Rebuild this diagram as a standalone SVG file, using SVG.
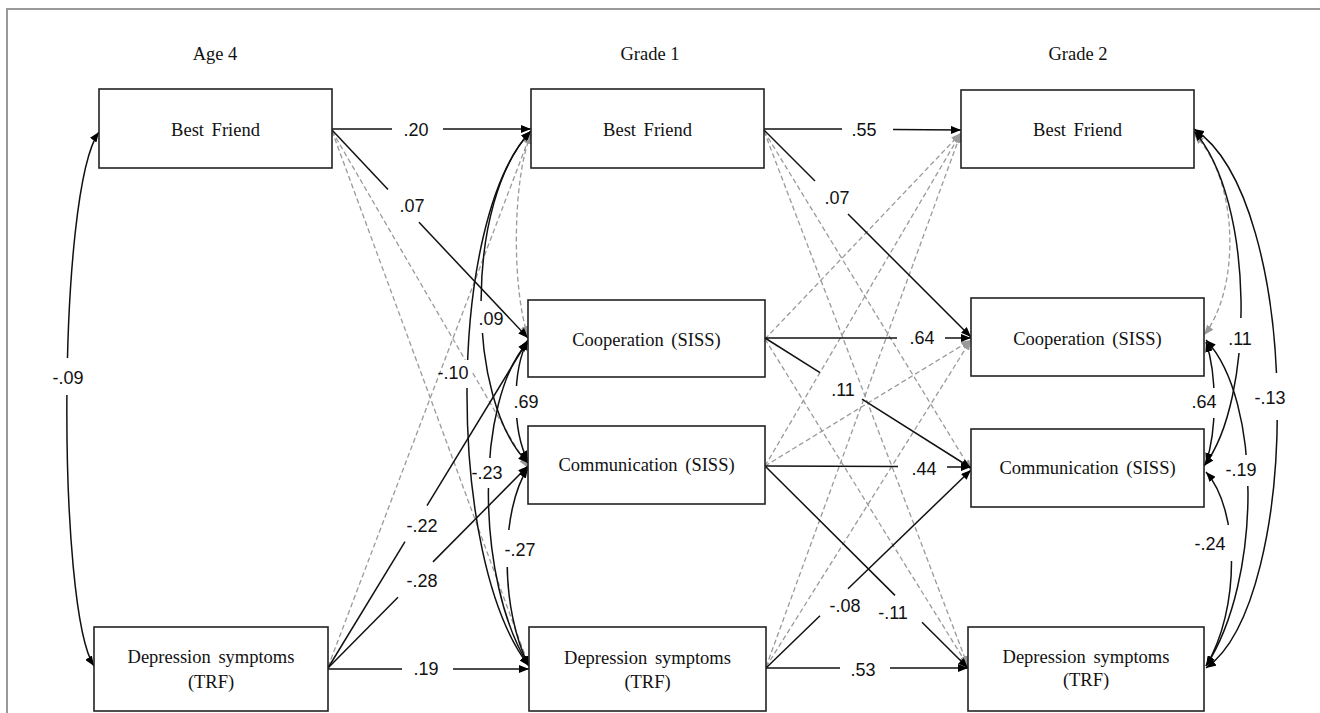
<svg xmlns="http://www.w3.org/2000/svg" width="1320" height="713" viewBox="0 0 1320 713">
<defs>
<style>
.box{fill:#fff;stroke:#222;stroke-width:1.6}
.lbl{font-family:"Liberation Serif","Times New Roman",serif;font-size:18.5px;fill:#111;text-anchor:middle;word-spacing:3px}
.hdr{font-family:"Liberation Serif","Times New Roman",serif;font-size:18.5px;fill:#111;text-anchor:middle}
.num{font-family:"Liberation Sans",Arial,sans-serif;font-size:18px;fill:#111;text-anchor:middle}
.s{fill:none;stroke:#111;stroke-width:1.5}
.d{fill:none;stroke:#9a9a9a;stroke-width:1.3;stroke-dasharray:5 3}
.sa{marker-end:url(#ah)}
.da{marker-end:url(#ahg)}
.cov{marker-start:url(#ah);marker-end:url(#ah)}
.covg{marker-start:url(#ahg);marker-end:url(#ahg)}
.gap{fill:#fff;stroke:none}
</style>
<marker id="ah" viewBox="0 0 10 8" refX="10" refY="4" markerWidth="10" markerHeight="8" markerUnits="userSpaceOnUse" orient="auto-start-reverse"><path d="M0,0 L10,4 L0,8 z" fill="#000"/></marker>
<marker id="ahg" viewBox="0 0 10 8" refX="10" refY="4" markerWidth="10" markerHeight="8" markerUnits="userSpaceOnUse" orient="auto-start-reverse"><path d="M0,0 L10,4 L0,8 z" fill="#9a9a9a"/></marker>
</defs>
<rect width="1320" height="713" fill="#fff"/>
<path d="M7,713 L7,9 L1320,9" fill="none" stroke="#999" stroke-width="2"/>

<g id="headers">
<text class="hdr" x="215" y="60">Age 4</text>
<text class="hdr" x="650" y="60">Grade 1</text>
<text class="hdr" x="1078" y="60">Grade 2</text>
</g>

<g id="connectors">
<line class="d da" x1="332" y1="131" x2="528" y2="468"/>
<line class="d da" x1="332" y1="131" x2="529" y2="666"/>
<line class="d da" x1="328" y1="667" x2="531" y2="133"/>
<line class="d da" x1="764" y1="131" x2="971" y2="470"/>
<line class="d da" x1="764" y1="131" x2="968" y2="666"/>
<line class="d da" x1="765" y1="339" x2="961" y2="133"/>
<line class="d da" x1="765" y1="339" x2="968" y2="666"/>
<line class="d da" x1="765" y1="466" x2="961" y2="133"/>
<line class="d da" x1="765" y1="466" x2="971" y2="340"/>
<line class="d da" x1="766" y1="667" x2="961" y2="133"/>
<line class="d da" x1="766" y1="667" x2="971" y2="340"/>

<path class="d covg" d="M531,134 C512,180 512,290 528,336"/>
<path class="d covg" d="M1194,134 C1240,180 1240,290 1204,335"/>

<line class="s" x1="332" y1="129" x2="392" y2="129"/>
<line class="s sa" x1="443" y1="129" x2="531" y2="129"/>
<line class="s" x1="332" y1="130" x2="388" y2="189.4"/>
<line class="s sa" x1="419" y1="222.3" x2="528" y2="338"/>
<line class="s" x1="328" y1="668" x2="405" y2="541.7"/>
<line class="s sa" x1="427" y1="505.6" x2="528" y2="340"/>
<line class="s" x1="328" y1="668" x2="398" y2="597.3"/>
<line class="s sa" x1="433" y1="561.9" x2="528" y2="466"/>
<line class="s" x1="328" y1="669" x2="402" y2="669"/>
<line class="s sa" x1="453" y1="669" x2="529" y2="669"/>

<line class="s" x1="764" y1="129" x2="842" y2="129"/>
<line class="s sa" x1="893" y1="129.5" x2="961" y2="130"/>
<line class="s" x1="764" y1="130" x2="815" y2="181"/>
<line class="s sa" x1="848" y1="214" x2="971" y2="337"/>
<line class="s" x1="765" y1="338" x2="897" y2="338"/>
<line class="s sa" x1="945" y1="338" x2="971" y2="338"/>
<line class="s" x1="765" y1="338" x2="820" y2="372.7"/>
<line class="s sa" x1="862" y1="399.2" x2="971" y2="468"/>
<line class="s" x1="765" y1="466" x2="898" y2="466.6"/>
<line class="s sa" x1="947" y1="466.9" x2="971" y2="467"/>
<line class="s" x1="765" y1="466" x2="895" y2="595.4"/>
<line class="s sa" x1="922" y1="622.2" x2="968" y2="668"/>
<line class="s" x1="766" y1="668" x2="820" y2="615.8"/>
<line class="s sa" x1="848" y1="588.8" x2="971" y2="470"/>
<line class="s" x1="766" y1="668" x2="840" y2="668"/>
<line class="s sa" x1="890" y1="668" x2="968" y2="668"/>

<path class="s cov" d="M99,132 C57,190 57,610 94,666"/>
<path class="s cov" d="M531,131 C465,200 465,400 528,463"/>
<path class="s cov" d="M531,131 C446,220 446,560 529,666"/>
<path class="s cov" d="M528,340 C512,370 512,430 528,461"/>
<path class="s cov" d="M528,342 C475,400 475,580 529,666"/>
<path class="s cov" d="M528,468 C500,510 500,610 529,666"/>
<path class="s cov" d="M1194,131 C1255,200 1255,400 1204,466"/>
<path class="s cov" d="M1194,129 C1303,200 1303,600 1206,668"/>
<path class="s cov" d="M1206,342 C1217,375 1217,430 1206,463"/>
<path class="s cov" d="M1206,340 C1262,400 1262,580 1206,666"/>
<path class="s cov" d="M1206,472 C1240,510 1240,610 1206,666"/>
</g>

<g id="labels">
<rect class="gap" x="60" y="358" width="15" height="37"/>
<rect class="gap" x="475" y="301" width="14" height="32"/>
<rect class="gap" x="461" y="360" width="11" height="28"/>
<rect class="gap" x="509" y="386" width="14" height="32"/>
<rect class="gap" x="480" y="458" width="14" height="30"/>
<rect class="gap" x="500" y="530" width="14" height="37"/>
<rect class="gap" x="1270" y="373" width="14" height="47"/>
<rect class="gap" x="1235" y="318" width="14" height="35"/>
<rect class="gap" x="1207" y="388" width="14" height="30"/>
<rect class="gap" x="1240" y="455" width="14" height="31"/>
<rect class="gap" x="1224" y="525" width="14" height="36"/>
<text class="num" x="68" y="384">-.09</text>
<text class="num" x="416" y="136">.20</text>
<text class="num" x="412" y="212">.07</text>
<text class="num" x="491" y="325">.09</text>
<text class="num" x="453" y="379">-.10</text>
<text class="num" x="526" y="408">.69</text>
<text class="num" x="487" y="479">-.23</text>
<text class="num" x="520" y="556">-.27</text>
<text class="num" x="422" y="532">-.22</text>
<text class="num" x="422" y="587">-.28</text>
<text class="num" x="426" y="675">.19</text>
<text class="num" x="864" y="136">.55</text>
<text class="num" x="837" y="204">.07</text>
<text class="num" x="922" y="344">.64</text>
<text class="num" x="843" y="396">.11</text>
<text class="num" x="924" y="475">.44</text>
<text class="num" x="845" y="612">-.08</text>
<text class="num" x="893" y="619">-.11</text>
<text class="num" x="863" y="676">.53</text>
<text class="num" x="1240" y="345">.11</text>
<text class="num" x="1204" y="408">.64</text>
<text class="num" x="1270" y="404">-.13</text>
<text class="num" x="1241" y="476">-.19</text>
<text class="num" x="1210" y="550">-.24</text>
</g>

<g id="a4-bf"><rect class="box" x="99" y="89" width="233" height="79"/><text class="lbl" x="215.5" y="135.5">Best Friend</text></g>
<g id="a4-dep"><rect class="box" x="94" y="627" width="234" height="84"/><text class="lbl" x="211" y="663">Depression symptoms</text><text class="lbl" x="211" y="688">(TRF)</text></g>
<g id="g1-bf"><rect class="box" x="531" y="89" width="233" height="79"/><text class="lbl" x="647.5" y="135.5">Best Friend</text></g>
<g id="g1-coop"><rect class="box" x="528" y="300" width="237" height="77"/><text class="lbl" x="646.5" y="346">Cooperation (SISS)</text></g>
<g id="g1-comm"><rect class="box" x="528" y="426" width="237" height="78"/><text class="lbl" x="646.5" y="471">Communication (SISS)</text></g>
<g id="g1-dep"><rect class="box" x="529" y="627" width="237" height="84"/><text class="lbl" x="647.5" y="664">Depression symptoms</text><text class="lbl" x="647.5" y="688">(TRF)</text></g>
<g id="g2-bf"><rect class="box" x="961" y="90" width="233" height="78"/><text class="lbl" x="1077.5" y="135.5">Best Friend</text></g>
<g id="g2-coop"><rect class="box" x="971" y="298" width="233" height="78"/><text class="lbl" x="1087.5" y="345">Cooperation (SISS)</text></g>
<g id="g2-comm"><rect class="box" x="971" y="429" width="233" height="78"/><text class="lbl" x="1087.5" y="474">Communication (SISS)</text></g>
<g id="g2-dep"><rect class="box" x="968" y="627" width="236" height="84"/><text class="lbl" x="1086" y="663">Depression symptoms</text><text class="lbl" x="1086" y="686">(TRF)</text></g>
</svg>
